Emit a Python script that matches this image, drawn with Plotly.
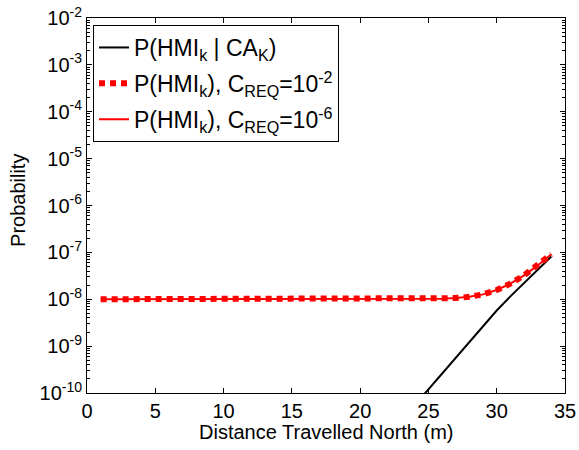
import plotly.graph_objects as go

# Data
dist_red = list(range(1, 35))
p_red = [1.0e-8]*22 + [1.003e-8, 1.006e-8, 1.012e-8, 1.026e-8, 1.058e-8, 1.126e-8,
                       1.269e-8, 1.575e-8, 2.15e-8, 3.24e-8, 5.27e-8, 9.1e-8]
dist_black = list(range(24, 35))
p_black = [5.5e-11, 1.2e-10, 2.63e-10, 5.75e-10, 1.26e-9, 2.69e-9, 5.75e-9,
           1.15e-8, 2.24e-8, 4.27e-8, 8.2e-8]

names = ["P(HMI<sub>k</sub> | CA<sub>K</sub>)",
         "P(HMI<sub>k</sub>), C<sub>REQ</sub>=10<sup>-2</sup>",
         "P(HMI<sub>k</sub>), C<sub>REQ</sub>=10<sup>-6</sup>"]

x_ticks = [0, 5, 10, 15, 20, 25, 30, 35]
y_exps = [-10, -9, -8, -7, -6, -5, -4, -3, -2]

FONT = "Liberation Sans, Arial, sans-serif"
minor_vals = [m * 10.0**e for e in range(-10, -2) for m in range(2, 10)]

fig = go.Figure()
fig.add_trace(go.Scatter(x=dist_black, y=p_black, mode="lines", name=names[0],
                         legendgroup="a", line=dict(color="black", width=2)))
fig.add_trace(go.Scatter(x=dist_red, y=p_red, mode="lines", name=names[2],
                         line=dict(color="#ff0000", width=2), showlegend=False))
fig.add_trace(go.Scatter(x=dist_red, y=p_red, mode="lines", name=names[1],
                         legendgroup="b", line=dict(color="#ff0000", width=6, dash="6px,5px")))
fig.add_trace(go.Scatter(x=[None], y=[None], mode="lines", name=names[2],
                         legendgroup="c", line=dict(color="#ff0000", width=2)))

fig.update_layout(
    width=579, height=450,
    margin=dict(l=87, r=14, t=18, b=57, autoexpand=False),
    paper_bgcolor="white", plot_bgcolor="white",
    font=dict(family=FONT, size=20, color="black"),
    showlegend=True,
    legend=dict(x=0.01255, y=0.9813, xanchor="left", yanchor="top",
                bordercolor="black", borderwidth=1, bgcolor="white",
                font=dict(size=23), tracegroupgap=3),
    xaxis=dict(range=[0, 35], tickvals=x_ticks, ticktext=[str(v) for v in x_ticks],
               ticks="inside", ticklen=5, tickcolor="black", showline=True,
               linecolor="black", linewidth=1, mirror="ticks", showgrid=False,
               zeroline=False, automargin=False, tickfont=dict(size=20)),
    yaxis=dict(type="log", range=[-10, -2],
               tickvals=[10.0**e for e in y_exps],
               ticktext=["10<sup>%d</sup>" % e for e in y_exps],
               ticks="inside", ticklen=5, tickcolor="black", showline=True,
               linecolor="black", linewidth=1, mirror="ticks", showgrid=False,
               zeroline=False, automargin=False, tickfont=dict(size=20),
               ticklabeloverflow="allow",
               minor=dict(tickmode="array", tickvals=minor_vals, ticks="inside",
                          ticklen=3, tickcolor="black", showgrid=False)),
    annotations=[
        dict(text="Distance Travelled North (m)", xref="paper", yref="paper",
             x=0.5, y=-0.104, xanchor="center", yanchor="middle", showarrow=False,
             font=dict(size=20)),
        dict(text="Probability", xref="paper", yref="paper", textangle=-90,
             x=-0.1444, y=0.5147, xanchor="center", yanchor="middle", showarrow=False,
             font=dict(size=20)),
    ],
)

fig.write_html("out.html", config={"displayModeBar": False},
               post_script="document.body.style.margin='0';document.body.style.padding='0';")
